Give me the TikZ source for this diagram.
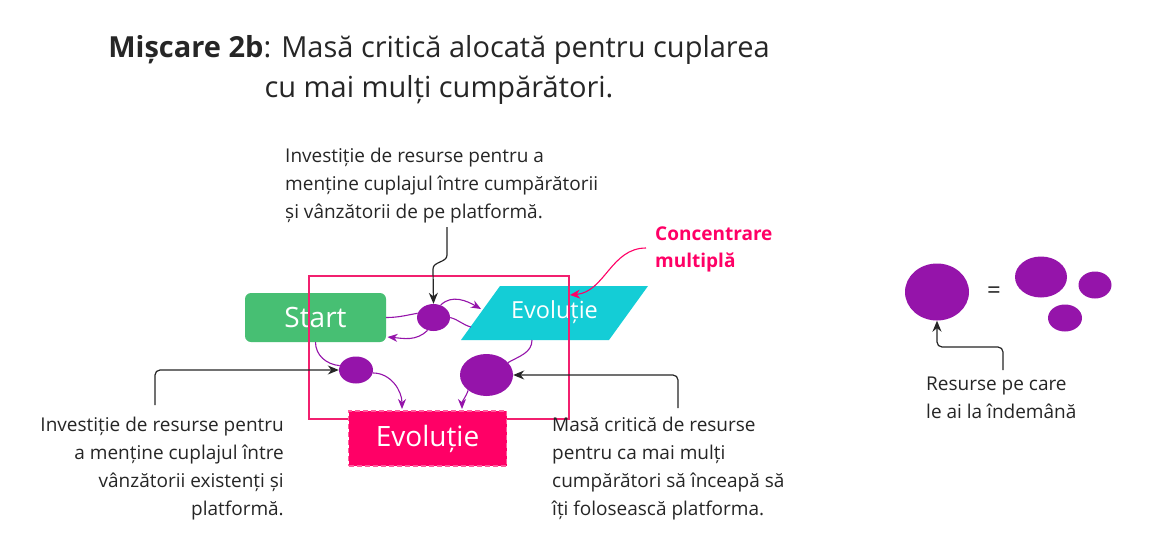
\documentclass[tikz,border=0pt]{standalone}
\usepackage{fontspec}
\setmainfont{Open Sans}
\newfontfamily\titlefont{Open Sans}
\usetikzlibrary{shapes.geometric,arrows.meta}
\definecolor{grn}{HTML}{47BF73}
\definecolor{cyn}{HTML}{14CDD6}
\definecolor{pnk}{HTML}{FF0066}
\definecolor{pnkdash}{HTML}{FF5C9D}
\definecolor{pnkline}{HTML}{F2206F}
\definecolor{prp}{HTML}{9514AA}
\definecolor{txt}{HTML}{262626}
\begin{document}
\begin{tikzpicture}[x=1pt,y=-1pt,
  res/.style={ellipse, fill=prp, inner sep=0},
  pcl/.style={draw=prp, line width=1.1pt},
  pc/.style={pcl, -{Stealth[length=10pt,width=8pt]}},
  bc/.style={draw=txt, line width=1.2pt, -{Stealth[length=11pt,width=9pt]}, rounded corners=5pt},
  body/.style={font=\fontsize{19}{28}\selectfont, text=txt, inner sep=0},
  boxtxt/.style={text=white, inner sep=0},
]
\useasboundingbox[fill=white] (0,0) rectangle (1162,552);

% title
\node[font=\titlefont\fontsize{29}{40}\selectfont, text=txt, align=center, anchor=north, inner sep=0] (title) at (439,35)
  {\textbf{Mișcare 2b}: Masă critică alocată pentru cuplarea\\cu mai mulți cumpărători.};

% main shapes
\node[fill=grn, rounded corners=6pt, minimum width=141, minimum height=49, inner sep=0] (start) at (315.5,317.5) {};
\node[boxtxt, font=\fontsize{28}{32}\selectfont] at (start.center) {Start};

\fill[cyn] (461,340) -- (500,286) -- (648,286) -- (609,340) -- cycle;
\node[boxtxt, font=\fontsize{23.5}{28}\selectfont] (evo1) at (554.5,312) {Evoluție};
\coordinate (cy1) at (481,309);
\coordinate (cy2) at (471,327);
\coordinate (cy3) at (532,340);

\draw[pnkline, line width=1.3pt] (309,276) rectangle (569,419);

\node[fill=pnk, draw=pnkdash, line width=1.5pt, dash pattern=on 5pt off 3pt, minimum width=158, minimum height=55, inner sep=0] (evo2) at (427.5,438.5) {};
\node[boxtxt, font=\fontsize{28}{32}\selectfont] at (evo2.center) {Evoluție};
\coordinate (ev2a) at (402,409);
\coordinate (ev2b) at (462,409);

% resources
\node[res, minimum width=33, minimum height=27] (e1) at (433.5,317.5) {};
\node[res, minimum width=34, minimum height=27] (e2) at (356,370) {};
\node[res, minimum width=53, minimum height=42] (e3) at (486.5,375) {};
\coordinate (st1) at (387.5,337);

% purple connectors
\draw[pcl] (start.east) to[out=0,in=190] (e1.165);
\draw[pc] (e1.60) to[out=45,in=150] (cy1);
\draw[pcl] (cy2) to[out=165,in=-15] (e1.east);
\draw[pc] (e1.245) to[out=225,in=-5] (st1);
\draw[pcl] (start.south) to[out=-90,in=175] (e2.165);
\draw[pc] (e2.-10) to[out=0,in=90] (ev2a);
\draw[pcl] (cy3) to[out=-90,in=30] (e3.30);
\draw[pc] (e3.220) to[out=250,in=90] (ev2b);

% callout texts
\node[body, align=left, anchor=north west] (ttop) at (285,148)
  {Investiție de resurse pentru a\\menține cuplajul între cumpărătorii\\și vânzătorii de pe platformă.};
\node[body, align=right, anchor=north east] (tleft) at (284,417)
  {Investiție de resurse pentru\\a menține cuplajul între\\vânzătorii existenți și\\platformă.};
\node[body, align=left, anchor=north west] (tright) at (552,417)
  {Masă critică de resurse\\pentru ca mai mulți\\cumpărători să înceapă să\\îți folosească platforma.};
\node[font=\bfseries\fontsize{19}{27}\selectfont, text=pnk, align=left, anchor=north west, inner sep=0] (conc) at (655,227)
  {Concentrare\\multiplă};

\coordinate (c1) at (447,227);
\coordinate (c2) at (155,405);
\coordinate (c3) at (678,408);
\coordinate (cp1) at (646,248);
\coordinate (cp2) at (570,295);

\draw[bc, rounded corners=0pt] (c1) -- ++(0,28) to[out=-90,in=90] ++(-14,14) -- (e1.north);
\draw[bc] (c2) |- (e2.west);
\draw[bc] (c3) |- (e3.east);
\draw[draw=pnk, line width=1.1pt, -{Stealth[length=10pt,width=9pt]}] (cp1) to[out=180,in=5] (cp2);

% legend
\node[res, minimum width=64, minimum height=57] (big) at (937,292) {};
\node[font=\fontsize{24}{28}\selectfont, text=txt, inner sep=0] (eq) at (994,293) {=};
\node[res, minimum width=52, minimum height=41] (l1) at (1041,277) {};
\node[res, minimum width=33, minimum height=27] (l2) at (1095,285) {};
\node[res, minimum width=34, minimum height=27] (l3) at (1065,318) {};
\node[body, align=left, anchor=north west] (tleg) at (926,377)
  {Resurse pe care\\le ai la îndemână};
\coordinate (c4) at (1003,370);
\draw[bc] (c4) -- (1003,347) -- (937,347) -- (big.south);
\end{tikzpicture}
\end{document}
